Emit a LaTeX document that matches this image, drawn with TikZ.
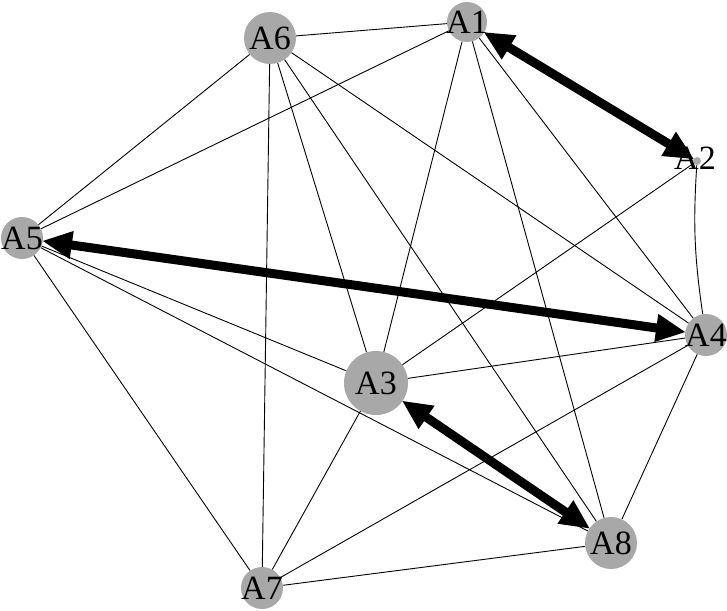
\documentclass[tikz,border=0pt]{standalone}
\usepackage{fontspec}
\setmainfont{Liberation Serif}
\usetikzlibrary{arrows.meta}
\definecolor{nodegray}{RGB}{168,168,168}
\tikzset{
  vtx/.style={circle, fill=nodegray, draw=none, inner sep=0pt},
  lbl/.style={inner sep=0pt, font=\fontsize{34}{34}\selectfont},
  thin edge/.style={line width=0.9pt, black},
  strong/.style={line width=9pt, black, {Triangle[length=30pt,width=26pt]}-{Triangle[length=30pt,width=26pt]}, shorten <=-1pt, shorten >=-1pt}
}
\begin{document}
\begin{tikzpicture}[x=1pt,y=-1pt]
\useasboundingbox (0,0) rectangle (727,610);
% vertices
\node[vtx, minimum size=52pt] (A6) at (270,38) {};
\node[vtx, minimum size=40pt] (A1) at (467,22) {};
\node[vtx, minimum size=8pt]  (A2) at (697,161) {};
\node[vtx, minimum size=42pt] (A5) at (22,238) {};
\node[vtx, minimum size=42pt] (A4) at (706,335) {};
\node[vtx, minimum size=64pt] (A3) at (376,383) {};
\node[vtx, minimum size=52pt] (A8) at (611,543) {};
\node[vtx, minimum size=42pt] (A7) at (262,588) {};
% thin edges
\draw[thin edge] (A6) -- (A1);
\draw[thin edge] (A6) -- (A5);
\draw[thin edge] (A6) -- (A7);
\draw[thin edge] (A6) -- (A3);
\draw[thin edge] (A6) -- (A8);
\draw[thin edge] (A6) -- (A4);
\draw[thin edge] (A1) -- (A5);
\draw[thin edge] (A1) -- (A3);
\draw[thin edge] (A1) -- (A8);
\draw[thin edge] (A1) -- (A4);
\draw[thin edge] (A2) to[bend right=6] (A4);
\draw[thin edge] (A2) -- (A3);
\draw[thin edge] (A5) -- (A7);
\draw[thin edge] (A5) -- (A3);
\draw[thin edge] (A5) -- (A8);
\draw[thin edge] (A3) -- (A7);
\draw[thin edge] (A3) -- (A4);
\draw[thin edge] (A4) -- (A7);
\draw[thin edge] (A4) -- (A8);
\draw[thin edge] (A7) -- (A8);
% strong edges
\draw[strong] (A1) -- (A2);
\draw[strong] (A5) -- (A4);
\draw[strong] (A3) -- (A8);
% labels
\node[lbl] (L6) at (A6) {A6};
\node[lbl] (L1) at (A1) {A1};
\node[lbl] (L2) at (695,158) {A2};
\node[lbl] (L5) at (A5) {A5};
\node[lbl] (L4) at (A4) {A4};
\node[lbl] (L3) at (A3) {A3};
\node[lbl] (L8) at (A8) {A8};
\node[lbl] (L7) at (A7) {A7};
\end{tikzpicture}
\end{document}
